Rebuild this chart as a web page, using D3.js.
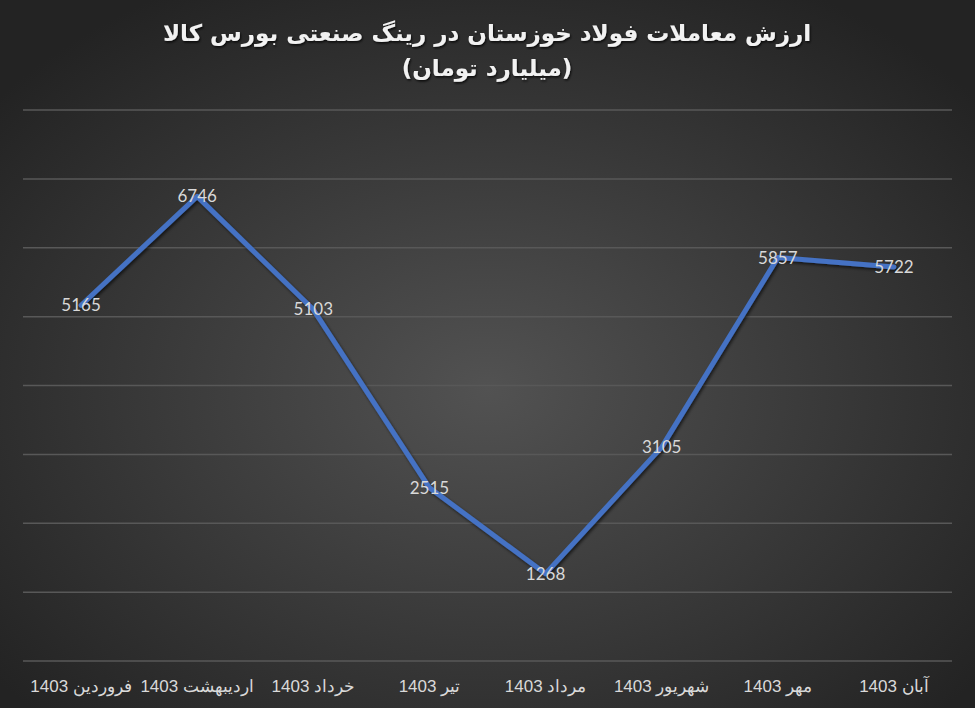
<!DOCTYPE html>
<html><head><meta charset="utf-8">
<script src="https://cdn.jsdelivr.net/npm/d3@7"></script>
<style>html,body{margin:0;padding:0;background:#2a2a2a;}svg{display:block;}</style>
</head><body>
<script>
const categories = ["فروردین 1403","اردیبهشت 1403","خرداد 1403","تیر 1403","مرداد 1403","شهریور 1403","مهر 1403","آبان 1403"];
const values = [5165, 6746, 5103, 2515, 1268, 3105, 5857, 5722];
const yTicks = [0,1000,2000,3000,4000,5000,6000,7000,8000];
const titleLines = ["ارزش معاملات فولاد خوزستان در رینگ صنعتی بورس کالا","(میلیارد تومان)"];

const W = 975, H = 708;
const svg = d3.select("body").append("svg").attr("width", W).attr("height", H);
const defs = svg.append("defs");
const grad = defs.append("radialGradient").attr("id","bg").attr("cx","50%").attr("cy","55%").attr("r","65%");
grad.append("stop").attr("offset","0%").attr("stop-color","#525252");
grad.append("stop").attr("offset","100%").attr("stop-color","#232323");
const sh = defs.append("filter").attr("id","shadow").attr("x","-20%").attr("y","-20%").attr("width","140%").attr("height","140%");
sh.append("feDropShadow").attr("dx",1.5).attr("dy",2).attr("stdDeviation",1.5).attr("flood-color","#000").attr("flood-opacity",0.6);
const tsh = defs.append("filter").attr("id","tshadow");
tsh.append("feDropShadow").attr("dx",1).attr("dy",1.5).attr("stdDeviation",1).attr("flood-color","#000").attr("flood-opacity",0.8);

svg.append("rect").attr("width",W).attr("height",H).attr("fill","url(#bg)");

const x = d3.scaleBand().domain(categories).range([23, 952]);
const y = d3.scaleLinear().domain([0, 8000]).range([661, 110]);

svg.append("g").selectAll("line").data(yTicks).join("line")
  .attr("x1", 23).attr("x2", 952)
  .attr("y1", d => y(d)).attr("y2", d => y(d))
  .attr("stroke", "#585858").attr("stroke-width", 1.5);

const xAxis = svg.append("g").attr("transform","translate(0,661)")
  .call(d3.axisBottom(x).tickSize(0).tickPadding(0));
xAxis.select(".domain").remove();
xAxis.selectAll("text")
  .attr("y", 25).attr("dy", "0.35em")
  .attr("direction","rtl")
  .attr("text-anchor","middle")
  .style("font-family","'Liberation Sans', Arial, sans-serif")
  .style("font-size","17px")
  .attr("fill","#d9d9d9");

const line = d3.line().x((d,i) => x(categories[i]) + x.bandwidth()/2).y(d => y(d));
svg.append("path").datum(values)
  .attr("d", line).attr("fill","none")
  .attr("stroke","#4472C4").attr("stroke-width",5)
  .attr("stroke-linejoin","round").attr("stroke-linecap","round")
  .attr("filter","url(#shadow)");

svg.append("g").selectAll("text").data(values).join("text")
  .attr("x", (d,i) => x(categories[i]) + x.bandwidth()/2)
  .attr("y", d => y(d)).attr("dy","0.35em")
  .attr("text-anchor","middle")
  .style("font-family","Lato, 'Open Sans', sans-serif")
  .style("font-size","17px")
  .attr("fill","#d9d9d9")
  .text(d => d);

svg.append("g").selectAll("text").data(titleLines).join("text")
  .attr("x", 487).attr("y", (d,i) => 33 + i*35).attr("dy","0.35em")
  .attr("text-anchor","middle").attr("direction","rtl")
  .style("font-family","'DejaVu Sans', Arial, sans-serif")
  .style("font-weight","bold").style("font-size","23px")
  .attr("fill","#f2f2f2").attr("filter","url(#tshadow)")
  .text(d => d);
</script>
</body></html>
